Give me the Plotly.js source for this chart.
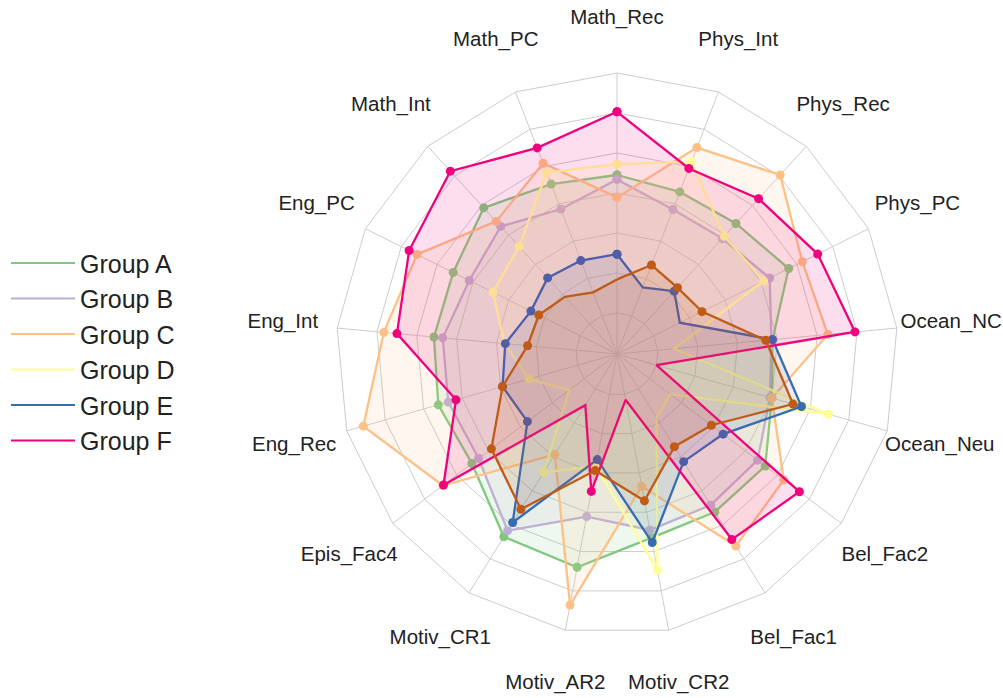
<!DOCTYPE html>
<html>
<head>
<meta charset="utf-8">
<script src="https://cdn.plot.ly/plotly-3.0.1.min.js"></script>
<style>html,body{margin:0;padding:0;background:#fff;}#chart{width:1003px;height:698px;}</style>
</head>
<body>
<div id="chart"></div>
<script>
const categories = ['Math_Rec','Phys_Int','Phys_Rec','Phys_PC','Ocean_NC','Ocean_Neu','Bel_Fac2','Bel_Fac1','Motiv_CR2','Motiv_AR2','Motiv_CR1','Epis_Fac4','Eng_Rec','Eng_Int','Eng_PC','Math_Int','Math_PC'];
const groupNames = ['Group A','Group B','Group C','Group D','Group E','Group F','Group G'];
const groupA = [3.45, 3.32, 3.39, 3.77, 2.88, 3.00, 3.62, 3.62, 3.65, 4.40, 4.35, 3.52, 3.62, 3.57, 3.55, 3.92, 3.53];
const groupB = [3.34, 2.85, 2.88, 3.24, 2.85, 2.95, 3.38, 3.42, 3.45, 3.11, 4.17, 3.31, 3.36, 3.35, 3.10, 3.29, 2.86];
const groupC = [2.89, 4.51, 5.03, 4.15, 4.27, 3.00, 4.20, 4.62, 2.34, 5.36, 1.93, 4.43, 5.57, 4.83, 4.56, 3.46, 4.09];
const groupD = [3.72, 4.13, 2.96, 3.07, 0.41, 4.47, 0.64, 0.85, 4.47, 1.83, 2.46, 0.47, 1.26, 1.80, 2.44, 2.61, 3.84];
const groupE = [1.47, 0.76, 1.10, 0.73, 2.88, 3.77, 2.30, 2.14, 3.77, 1.66, 3.93, 1.78, 1.95, 1.78, 1.38, 1.55, 1.48];
const groupF = [5.03, 3.95, 4.23, 4.58, 4.95, 0.00, 4.69, 4.43, 0.14, 2.47, 0.48, 4.41, 3.16, 4.50, 4.78, 5.16, 4.50];
const groupG = [0.84, 1.36, 1.22, 1.35, 2.71, 3.55, 1.93, 1.70, 2.71, 1.94, 3.54, 2.91, 1.95, 1.22, 1.16, 0.91, 0.63];
const gridLevels = [0, 1, 2, 3, 4, 5];
const colors = ['#7fc97f','#beaed4','#fdc086','#ffff99','#386cb0','#f0027f','#bf5b17'];
const fills = ['rgba(127,201,127,0.13)','rgba(190,174,212,0.13)','rgba(253,192,134,0.13)','rgba(255,255,153,0.13)','rgba(56,108,176,0.13)','rgba(240,2,127,0.13)','rgba(191,91,23,0.13)'];
const showInLegend = [true,true,true,true,true,true,false];

const series = [groupA, groupB, groupC, groupD, groupE, groupF, groupG];
const thetaClosed = categories.concat([categories[0]]);
const traces = series.map((vals, i) => ({
  type: 'scatterpolar',
  subplot: 'polar',
  mode: 'lines+markers',
  name: groupNames[i],
  r: vals.concat([vals[0]]),
  theta: thetaClosed,
  fill: 'toself',
  fillcolor: fills[i],
  line: {color: colors[i], width: 2.3},
  marker: {color: colors[i], size: 9},
  showlegend: false,
  hoverinfo: 'skip'
}));
// legend-only entries (line symbol only): a single-point line draws nothing on the chart
series.forEach((vals, i) => {
  if (!showInLegend[i]) return;
  traces.push({
    type: 'scatterpolar', subplot: 'polar2', mode: 'lines',
    name: groupNames[i], r: [0], theta: [categories[0]],
    line: {color: colors[i], width: 2}, hoverinfo: 'skip', showlegend: true
  });
});
// category labels on an outer (invisible) polar frame
const labelRadius = categories.map(() => 0.99);
traces.push({
  type: 'scatterpolar', subplot: 'polar2',
  mode: 'text',
  r: labelRadius,
  theta: categories,
  text: categories,
  textposition: 'middle center',
  textfont: {family: 'Arial, "Liberation Sans", sans-serif', size: 20.5, color: '#222222'},
  cliponaxis: false,
  showlegend: false,
  hoverinfo: 'skip'
});

const layout = {
  width: 1003, height: 698,
  margin: {t: 0, b: 0, l: 0, r: 0, autoexpand: false},
  paper_bgcolor: '#ffffff',
  font: {family: 'Arial, "Liberation Sans", sans-serif', color: '#222222'},
  showlegend: true,
  legend: {
    xref: 'container', yref: 'container',
    x: 0.006, y: 0.496, xanchor: 'left', yanchor: 'middle',
    font: {size: 25, color: '#222222'},
    itemwidth: 64,
    bgcolor: 'rgba(0,0,0,0)'
  },
  polar: {
    domain: {x: [0.33500, 0.89531], y: [0.09026, 0.89542]},
    bgcolor: '#ffffff',
    gridshape: 'linear',
    radialaxis: {
      range: [-1.025, 6], autorange: false, tickvals: gridLevels,
      showticklabels: false, ticks: '', showline: false,
      gridcolor: '#cccccc', gridwidth: 1
    },
    angularaxis: {
      type: 'category', direction: 'clockwise', rotation: 90,
      categoryarray: categories, categoryorder: 'array',
      showticklabels: false, ticks: '',
      showline: true, linecolor: '#cccccc', linewidth: 1,
      gridcolor: '#cccccc', gridwidth: 1
    }
  },
  polar2: {
    domain: {x: [0.27717, 0.95314], y: [0.00716, 0.97851]},
    bgcolor: 'rgba(0,0,0,0)',
    radialaxis: {range: [0, 1], autorange: false, visible: false},
    angularaxis: {
      type: 'category', direction: 'clockwise', rotation: 90,
      categoryarray: categories, categoryorder: 'array',
      visible: false
    }
  }
};
Plotly.newPlot('chart', traces, layout, {displayModeBar: false, staticPlot: true});
</script>
</body>
</html>
